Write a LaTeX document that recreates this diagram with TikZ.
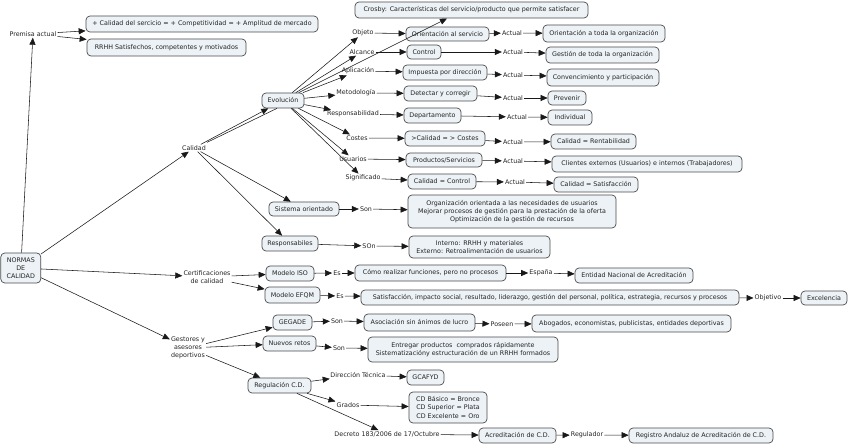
\documentclass[tikz,border=0pt]{standalone}
\usepackage{fontspec}
\setmainfont{DejaVu Sans}
\usetikzlibrary{arrows.meta}
\definecolor{boxfill}{RGB}{236,242,245}
\definecolor{boxline}{RGB}{75,75,75}
\definecolor{txt}{RGB}{35,35,35}
\begin{document}
\begin{tikzpicture}[x=1pt,y=-1pt,
  every node/.style={font=\fontsize{6.35}{8.2}\selectfont, text=txt},
  bx/.style={draw=boxline, fill=boxfill, rounded corners=4pt, line width=0.7pt, inner sep=1pt, align=center},
  lb/.style={inner sep=1pt, align=center},
  ar/.style={-{Triangle[length=7pt,width=6pt]}, line width=0.55pt, draw=black!90}]
\useasboundingbox (0,0) rectangle (848,446);

% ---------- boxes ----------
\node[bx, minimum width=233, minimum height=16] (crosby) at (471.5,10) {Crosby: Características del servicio/producto que permite satisfacer};
\node[bx, minimum width=232, minimum height=16] (calserv) at (202,24) {+ Calidad del sercicio = + Competitividad = + Amplitud de mercado};
\node[bx, minimum width=159, minimum height=17] (rrhh) at (166.5,47.5) {RRHH Satisfechos, competentes y motivados};
\node[bx, minimum width=42, minimum height=15] (evol) at (283,100.5) {Evolución};
\node[bx, minimum width=83, minimum height=14] (orserv) at (447.5,34) {Orientación al servicio};
\node[bx, minimum width=34, minimum height=14] (control) at (424,52) {Control};
\node[bx, minimum width=84, minimum height=15] (impuesta) at (445,72.5) {Impuesta por dirección};
\node[bx, minimum width=73, minimum height=15] (detectar) at (440.5,93.5) {Detectar y corregir};
\node[bx, minimum width=57, minimum height=15] (depto) at (432.5,115.5) {Departamento};
\node[bx, minimum width=80, minimum height=15] (calcostes) at (445,138.5) {>Calidad = > Costes};
\node[bx, minimum width=76, minimum height=14] (prodserv) at (444,160) {Productos/Servicios};
\node[bx, minimum width=68, minimum height=15] (calcontrol) at (442,181.5) {Calidad = Control};
\node[bx, minimum width=122, minimum height=17] (ortoda) at (604,33.5) {Orientación a toda la organización};
\node[bx, minimum width=113, minimum height=16] (gestoda) at (602.5,55) {Gestión de toda la organización};
\node[bx, minimum width=112, minimum height=17] (convenc) at (603,77.5) {Convencimiento y participación};
\node[bx, minimum width=38, minimum height=14] (prevenir) at (567,98) {Prevenir};
\node[bx, minimum width=44, minimum height=15] (individual) at (570,117.5) {Individual};
\node[bx, minimum width=85, minimum height=15] (rentab) at (593.5,141.5) {Calidad = Rentabilidad};
\node[bx, minimum width=190, minimum height=16] (clientes) at (647,164) {Clientes externos (Usuarios) e internos (Trabajadores)};
\node[bx, minimum width=84, minimum height=15] (satisf) at (596,184.5) {Calidad = Satisfacción};
\node[bx, minimum width=70, minimum height=14] (sisor) at (304,209) {Sistema orientado};
\node[bx, minimum width=208, minimum height=33] (orgbox) at (512,211.5) {Organización orientada a las necesidades de usuarios\\Mejorar procesos de gestión para la prestación de la oferta\\Optimización de la gestión de recursos};
\node[bx, minimum width=56, minimum height=15] (respon) at (290,243.5) {Responsabiles};
\node[bx, minimum width=141, minimum height=22] (interno) at (479.5,247) {Interno: RRHH y materiales\\Externo: Retroalimentación de usuarios};
\node[bx, minimum width=48, minimum height=15] (iso) at (290,273.5) {Modelo ISO};
\node[bx, minimum width=151, minimum height=16] (como) at (430.5,273) {Cómo realizar funciones, pero no procesos};
\node[bx, minimum width=118, minimum height=15] (entidad) at (634,275.5) {Entidad Nacional de Acreditación};
\node[bx, minimum width=55, minimum height=16] (efqm) at (292.5,295) {Modelo EFQM};
\node[bx, minimum width=378, minimum height=15] (satbox) at (550,297.5) {Satisfacción, impacto social, resultado, liderazgo, gestión del personal, política, estrategia, recursos y procesos};
\node[bx, minimum width=46, minimum height=14] (excel) at (824,298) {Excelencia};
\node[bx, minimum width=40, minimum height=30] (normas) at (20.8,268) {NORMAS\\DE\\CALIDAD};
\node[bx, minimum width=39, minimum height=15] (gegade) at (292.5,322.5) {GEGADE};
\node[bx, minimum width=111, minimum height=17] (asoc) at (419.5,322.5) {Asociación sin ánimos de lucro};
\node[bx, minimum width=199, minimum height=17] (abog) at (631.5,323.5) {Abogados, economistas, publicistas, entidades deportivas};
\node[bx, minimum width=53, minimum height=15] (nuevos) at (289.5,343.5) {Nuevos retos};
\node[bx, minimum width=190, minimum height=25] (entregar) at (463,349.5) {Entregar productos \ comprados rápidamente\\Sistematizacióny estructuración de un RRHH formados};
\node[bx, minimum width=63, minimum height=15] (regul) at (279.5,385.5) {Regulación C.D.};
\node[bx, minimum width=37, minimum height=15] (gcafyd) at (425.5,377.5) {GCAFYD};
\node[bx, minimum width=78, minimum height=31] (cdbox) at (448,407.5) {CD Básico = Bronce\\CD Superior = Plata\\CD Excelente = Oro};
\node[bx, minimum width=77, minimum height=15] (acred) at (517.5,435.5) {Acreditación de C.D.};
\node[bx, minimum width=144, minimum height=15] (registro) at (701,435.5) {Registro Andaluz de Acreditación de C.D.};

% ---------- linking labels ----------
\node[lb] (premisa) at (33,34) {Premisa actual};
\node[lb] (calidad) at (194,148) {Calidad};
\node[lb] (objeto) at (363,33) {Objeto};
\node[lb] (alcance) at (362,52) {Alcance};
\node[lb] (aplic) at (358,71) {Aplicación};
\node[lb] (metod) at (356,93) {Metodología};
\node[lb] (respons) at (353,114) {Responsabilidad};
\node[lb] (costes) at (357,138) {Costes};
\node[lb] (usuarios) at (353,159) {Usuarios};
\node[lb] (signif) at (363,178) {Significado};
\node[lb] (act1) at (512,33) {Actual};
\node[lb] (act2) at (513,52) {Actual};
\node[lb] (act3) at (513,75) {Actual};
\node[lb] (act4) at (513,98) {Actual};
\node[lb] (act5) at (517,117) {Actual};
\node[lb] (act6) at (513,142) {Actual};
\node[lb] (act7) at (513,161) {Actual};
\node[lb] (act8) at (515,182) {Actual};
\node[lb] (son1) at (366,209) {Son};
\node[lb] (son2) at (369,246) {SOn};
\node[lb] (certif) at (207,277) {Certificaciones\\de calidad};
\node[lb] (es1) at (337,273) {Es};
\node[lb] (espana) at (541,273) {España};
\node[lb] (es2) at (340,296) {Es};
\node[lb] (objetivo) at (768,298) {Objetivo};
\node[lb] (gestores) at (188,348) {Gestores y\\asesores\\deportivos};
\node[lb] (son3) at (337,321) {Son};
\node[lb] (poseen) at (502,324) {Poseen};
\node[lb] (son4) at (339,348) {Son};
\node[lb] (dirtec) at (358,375) {Dirección Técnica};
\node[lb] (grados) at (348,405) {Grados};
\node[lb] (decreto) at (387,434) {Decreto 183/2006 de 17/Octubre};
\node[lb] (regulador) at (587,435) {Regulador};
\coordinate (crin) at (447,18.5);

% ---------- connectors ----------
\draw[ar] (normas) -- (premisa);
\draw[ar] (premisa) -- (calserv);
\draw[ar] (premisa) -- (rrhh);
\draw[ar] (normas) -- (calidad);
\draw[ar] (normas) -- (certif);
\draw[ar] (normas) -- (gestores);

\draw[ar] (calidad) -- (evol);
\draw[line width=0.55pt, draw=black!90] ([yshift=2pt]calidad.north east) -- ([xshift=-6pt]evol.south);
\draw[ar] (calidad) -- (sisor);
\draw[ar] (calidad) -- (respon);

\draw[ar] (evol) -- (objeto);
\draw[ar] (evol) -- (alcance);
\draw[ar] (evol) -- (aplic);
\draw[ar] (evol) -- (crin);
\draw[ar] (evol) -- (metod);
\draw[ar] (evol) -- (respons);
\draw[ar] (evol) -- (costes);
\draw[ar] (evol) -- (usuarios);
\draw[ar] (evol) -- (signif);

\draw[ar] (objeto) -- (orserv);   \draw[ar] (orserv) -- (act1);     \draw[ar] (act1) -- (ortoda);
\draw[ar] (alcance) -- (control); \draw[ar] (control) -- (act2);    \draw[ar] (act2) -- (gestoda);
\draw[ar] (aplic) -- (impuesta);  \draw[ar] (impuesta) -- (act3);   \draw[ar] (act3) -- (convenc);
\draw[ar] (metod) -- (detectar);  \draw[ar] (detectar) -- (act4);   \draw[ar] (act4) -- (prevenir);
\draw[ar] (respons) -- (depto);   \draw[ar] (depto) -- (act5);      \draw[ar] (act5) -- (individual);
\draw[ar] (costes) -- (calcostes);\draw[ar] (calcostes) -- (act6);  \draw[ar] (act6) -- (rentab);
\draw[ar] (usuarios) -- (prodserv);\draw[ar] (prodserv) -- (act7);  \draw[ar] (act7) -- (clientes);
\draw[ar] (signif) -- (calcontrol);\draw[ar] (calcontrol) -- (act8);\draw[ar] (act8) -- (satisf);

\draw[ar] (sisor) -- (son1);  \draw[ar] (son1) -- (orgbox);
\draw[ar] (respon) -- (son2); \draw[ar] (son2) -- (interno);

\draw[ar] (certif) -- (iso);
\draw[ar] (certif) -- (efqm);
\draw[ar] (iso) -- (es1);   \draw[ar] (es1) -- (como);   \draw[ar] (como) -- (espana);  \draw[ar] (espana) -- (entidad);
\draw[ar] (efqm) -- (es2);  \draw[ar] (es2) -- (satbox); \draw[ar] (satbox) -- (objetivo); \draw[ar] (objetivo) -- (excel);

\draw[ar] (gestores) -- (gegade);
\draw[ar] (gestores) -- (nuevos);
\draw[ar] (gestores) -- (regul);
\draw[ar] (gegade) -- (son3); \draw[ar] (son3) -- (asoc); \draw[ar] (asoc) -- (poseen); \draw[ar] (poseen) -- (abog);
\draw[ar] (nuevos) -- (son4); \draw[ar] (son4) -- (entregar);

\draw[ar] (regul) -- (dirtec);  \draw[ar] (dirtec) -- (gcafyd);
\draw[ar] (regul) -- (grados);  \draw[ar] (grados) -- (cdbox);
\draw[ar] (regul) -- (decreto); \draw[ar] (decreto) -- (acred);
\draw[ar] (acred) -- (regulador); \draw[ar] (regulador) -- (registro);
\end{tikzpicture}
\end{document}
